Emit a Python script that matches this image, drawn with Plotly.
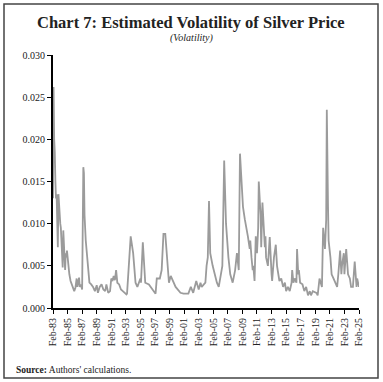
import plotly.graph_objects as go

# Readings (month, volatility)
dates = [
    "1983-02", "1983-03", "1983-04", "1983-05", "1983-06", "1983-07", "1983-08", "1983-09",
    "1983-10", "1983-11", "1983-12", "1984-01", "1984-02", "1984-03", "1984-04", "1984-05",
    "1984-06", "1984-07", "1984-08", "1984-09", "1984-10", "1984-11", "1984-12", "1985-01",
    "1985-03", "1985-05", "1985-07", "1985-09", "1985-11", "1986-01", "1986-03", "1986-05",
    "1986-06", "1986-08", "1986-09", "1986-10", "1986-12", "1987-02", "1987-03", "1987-04",
    "1987-05", "1987-06", "1987-08", "1987-10", "1987-12", "1988-02", "1988-05", "1988-08",
    "1988-11", "1989-02", "1989-04", "1989-07", "1989-10", "1990-01", "1990-04", "1990-06",
    "1990-09", "1990-12", "1991-02", "1991-04", "1991-06", "1991-08", "1991-10", "1991-12",
    "1992-03", "1992-06", "1992-09", "1992-12", "1993-03", "1993-04", "1993-07", "1993-10",
    "1993-11", "1994-02", "1994-06", "1994-09", "1995-02", "1995-03", "1995-06", "1995-10",
    "1996-04", "1996-12", "1997-03", "1997-05", "1997-10", "1998-01", "1998-04", "1998-07",
    "1998-10", "1999-01", "1999-04", "1999-12", "2000-08", "2001-01", "2001-09", "2002-01",
    "2002-05", "2002-10", "2003-02", "2003-05", "2003-07", "2004-01", "2004-03", "2004-05",
    "2004-07", "2004-09", "2005-01", "2005-08", "2005-11", "2006-01", "2006-05", "2006-08",
    "2006-11", "2007-03", "2007-06", "2007-10", "2008-02", "2008-05", "2008-08", "2008-10",
    "2008-12", "2009-03", "2009-06", "2009-09", "2009-11", "2010-02", "2010-03", "2010-05",
    "2010-07", "2010-08", "2010-10", "2010-12", "2011-02", "2011-04", "2011-05", "2011-08",
    "2011-09", "2011-11", "2012-01", "2012-03", "2012-04", "2012-05", "2012-08", "2012-11",
    "2013-02", "2013-03", "2013-06", "2013-07", "2013-09", "2013-11", "2014-01", "2014-03",
    "2014-06", "2014-09", "2014-12", "2015-02", "2015-05", "2015-08", "2015-11", "2015-12",
    "2016-02", "2016-04", "2016-07", "2016-08", "2016-10", "2016-11", "2017-01", "2017-05",
    "2017-08", "2017-11", "2018-02", "2018-05", "2018-07", "2018-10", "2019-04", "2019-06",
    "2019-09", "2019-12", "2020-01", "2020-03", "2020-04", "2020-06", "2020-08", "2020-09",
    "2020-11", "2020-12", "2021-03", "2021-05", "2021-08", "2021-11", "2022-02", "2022-04",
    "2022-07", "2022-09", "2022-10", "2023-01", "2023-02", "2023-05", "2023-08", "2023-11",
    "2024-01", "2024-04", "2024-06", "2024-07", "2024-10", "2024-11", "2025-02",
]
volatility = [
    0.0130, 0.0262, 0.0200, 0.0185, 0.0150, 0.0130, 0.0135, 0.0100,
    0.0072, 0.0135, 0.0120, 0.0105, 0.0100, 0.0095, 0.0080, 0.0060,
    0.0048, 0.0092, 0.0070, 0.0050, 0.0045, 0.0065, 0.0060, 0.0068,
    0.0048, 0.0040, 0.0032, 0.0028, 0.0022, 0.0020, 0.0024, 0.0035,
    0.0025, 0.0033, 0.0036, 0.0025, 0.0028, 0.0022, 0.0160, 0.0167,
    0.0160, 0.0110, 0.0080, 0.0060, 0.0045, 0.0030, 0.0028, 0.0025,
    0.0020, 0.0027, 0.0018, 0.0025, 0.0028, 0.0022, 0.0020, 0.0028,
    0.0018, 0.0020, 0.0035, 0.0032, 0.0038, 0.0033, 0.0045, 0.0030,
    0.0028, 0.0022, 0.0020, 0.0018, 0.0016, 0.0017, 0.0050, 0.0085,
    0.0080, 0.0065, 0.0030, 0.0025, 0.0035, 0.0030, 0.0078, 0.0030,
    0.0028, 0.0020, 0.0017, 0.0035, 0.0035, 0.0045, 0.0088, 0.0088,
    0.0055, 0.0030, 0.0038, 0.0025, 0.0018, 0.0017, 0.0017, 0.0025,
    0.0018, 0.0032, 0.0022, 0.0030, 0.0025, 0.0030, 0.0050, 0.0060,
    0.0127, 0.0065, 0.0050, 0.0030, 0.0025, 0.0035, 0.0050, 0.0175,
    0.0100, 0.0060, 0.0040, 0.0030, 0.0045, 0.0065, 0.0045, 0.0183,
    0.0150, 0.0120, 0.0105, 0.0095, 0.0085, 0.0070, 0.0080, 0.0060,
    0.0045, 0.0050, 0.0032, 0.0085, 0.0065, 0.0095, 0.0150, 0.0110,
    0.0072, 0.0125, 0.0090, 0.0072, 0.0085, 0.0060, 0.0050, 0.0084,
    0.0040, 0.0032, 0.0060, 0.0065, 0.0075, 0.0050, 0.0040, 0.0032,
    0.0035, 0.0025, 0.0030, 0.0020, 0.0025, 0.0020, 0.0030, 0.0045,
    0.0030, 0.0035, 0.0030, 0.0070, 0.0040, 0.0045, 0.0030, 0.0028,
    0.0020, 0.0025, 0.0015, 0.0020, 0.0015, 0.0020, 0.0018, 0.0015,
    0.0035, 0.0025, 0.0025, 0.0095, 0.0085, 0.0070, 0.0105, 0.0235,
    0.0120, 0.0080, 0.0060, 0.0040, 0.0035, 0.0030, 0.0025, 0.0040,
    0.0068, 0.0040, 0.0050, 0.0065, 0.0040, 0.0070, 0.0040, 0.0035,
    0.0025, 0.0025, 0.0055, 0.0055, 0.0025, 0.0035, 0.0025,
]

tick_dates = [f"{y}-02" for y in range(1983, 2026, 2)]
tick_labels = [f"Feb-{y % 100:02d}" for y in range(1983, 2026, 2)]
y_ticks = [0.000, 0.005, 0.010, 0.015, 0.020, 0.025, 0.030]
y_tick_labels = [f"{v:.3f}" for v in y_ticks]

W, H = 383, 382
ML, MR, MT, MB = 53, 24, 55, 74
PW = W - ML - MR
PH = H - MT - MB


def px_x(px):
    return (px - ML) / PW


def px_y(py):
    return (H - MB - py) / PH


font_family = "Liberation Serif"

fig = go.Figure()
fig.add_trace(go.Scatter(
    x=dates, y=volatility, mode="lines",
    line=dict(color="#9b9b9b", width=1.8),
    showlegend=False, hoverinfo="skip",
))

fig.update_layout(
    width=W, height=H,
    margin=dict(l=ML, r=MR, t=MT, b=MB),
    paper_bgcolor="white", plot_bgcolor="white",
    font=dict(family=font_family, size=10, color="#222"),
    xaxis=dict(
        type="date",
        range=["1983-02-01", "2025-02-01"],
        tickvals=tick_dates, ticktext=tick_labels, tickangle=-90,
        showgrid=False, zeroline=False,
        showline=True, linecolor="black", linewidth=2,
        ticks="outside", ticklen=4, tickcolor="black", tickwidth=1,
        tickfont=dict(family=font_family, size=10, color="#222"),
    ),
    yaxis=dict(
        range=[0, 0.030],
        tickvals=y_ticks, ticktext=y_tick_labels,
        showgrid=False, zeroline=False,
        showline=True, linecolor="black", linewidth=2,
        ticks="outside", ticklen=4, tickcolor="black", tickwidth=1,
        tickfont=dict(family=font_family, size=10, color="#222"),
    ),
    annotations=[
        dict(text="<b>Chart 7: Estimated Volatility of Silver Price</b>",
             x=px_x(191), y=px_y(22), xref="paper", yref="paper",
             xanchor="center", yanchor="middle", showarrow=False,
             font=dict(family=font_family, size=16.5, color="#222")),
        dict(text="<i>(Volatility)</i>",
             x=px_x(191), y=px_y(38), xref="paper", yref="paper",
             xanchor="center", yanchor="middle", showarrow=False,
             font=dict(family=font_family, size=10, color="#222")),
        dict(text="<b>Source:</b> Authors' calculations.",
             x=px_x(14), y=px_y(370), xref="paper", yref="paper",
             xanchor="left", yanchor="middle", showarrow=False,
             font=dict(family=font_family, size=9.5, color="#222")),
    ],
    shapes=[
        dict(type="rect", xref="paper", yref="paper",
             x0=px_x(4), x1=px_x(378), y0=px_y(378), y1=px_y(4),
             line=dict(color="#444", width=1.5), fillcolor="rgba(0,0,0,0)",
             layer="above"),
    ],
)

fig.write_html(
    "out.html",
    config={"displayModeBar": False, "staticPlot": True},
    post_script="document.body.style.margin='0px';document.body.style.overflow='hidden';",
)
